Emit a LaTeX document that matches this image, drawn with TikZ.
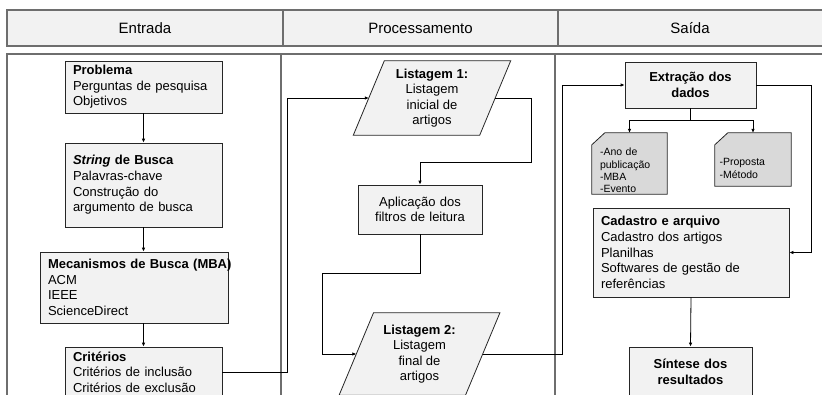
\documentclass[tikz,border=0pt]{standalone}
\usepackage{fontspec}
\setmainfont{Liberation Sans}
\usetikzlibrary{arrows.meta,backgrounds}
\definecolor{boxfill}{HTML}{F2F2F2}
\definecolor{docfill}{HTML}{D9D9D9}
\definecolor{framecol}{HTML}{6E6E6E}
\tikzset{
  frame/.style={draw=framecol, line width=1.2pt},
  box/.style={draw=black!85, fill=boxfill, line width=0.8pt, inner sep=0pt,
    font=\fontsize{13}{15.6}\selectfont, align=left},
  cbox/.style={box, align=center},
  ltext/.style={inner sep=0pt, font=\fontsize{13}{15.4}\selectfont, align=center},
  pbox/.style={draw=black!85, fill=boxfill, line width=0.8pt},
  dshape/.style={draw=black!85, fill=docfill, line width=0.8pt},
  doc/.style={inner sep=0pt, font=\fontsize{10.5}{12.4}\selectfont, align=left},
  conn/.style={draw=black, line width=0.8pt},
  arr/.style={conn, -{Latex[length=4pt,width=3.6pt]}},
  head/.style={inner sep=0pt, font=\fontsize{15}{18}\selectfont}
}
\begin{document}
\begin{tikzpicture}[x=1pt,y=-1pt]
\useasboundingbox (0,0) rectangle (822,394);
\clip (0,0) rectangle (822,394);
% header
\draw[frame, fill=boxfill] (7,10) rectangle (840,46);
\draw[frame] (283,10) -- (283,46);
\draw[frame] (558,10) -- (558,46);
\node[head] (h1) at (145,28) {Entrada};
\node[head] (h2) at (420.5,28) {Processamento};
\node[head] (h3) at (690,28) {Saída};
% body frame
\draw[frame] (840,54) -- (7,54) -- (7,420);
\draw[frame] (281,54) -- (281,420);
\draw[frame] (555,54) -- (555,420);

% Entrada column
\node[box, minimum width=157, minimum height=52, text width=141] (prob) at (143.5,87)
  {\textbf{Problema}\\Perguntas de pesquisa\\Objetivos};
\node[box, minimum width=157, minimum height=84, text width=141] (str) at (143.5,185)
  {\textbf{\textit{String} de Busca}\\Palavras-chave\\Construção do\\argumento de busca};
\node[box, minimum width=188, minimum height=71, text width=172] (mba) at (134,287.5)
  {\mbox{\textbf{Mecanismos de Busca (MBA)}}\\ACM\\IEEE\\ScienceDirect};
\node[box, minimum width=157, minimum height=50, text width=141] (crit) at (143.5,372)
  {\textbf{Critérios}\\Critérios de inclusão\\Critérios de exclusão};

% Processamento column
\node[ltext, minimum width=126, minimum height=74] (l1) at (432,98)
  {\textbf{Listagem 1:}\\Listagem\\inicial de\\artigos};
\node[cbox, minimum width=124, minimum height=49, text width=120] (apl) at (420,209.5)
  {Aplicação dos\\filtros de leitura};
\node[ltext, minimum width=126, minimum height=82] (l2) at (419.5,354)
  {\textbf{Listagem 2:}\\Listagem\\final de\\artigos};

% Saida column
\node[cbox, minimum width=131, minimum height=46, text width=125] (ext) at (690.5,85)
  {\textbf{Extração dos}\\\textbf{dados}};
\node[doc, minimum width=75, minimum height=61, text width=59] (doc1) at (629.5,163.5)
  {\rule{0pt}{21.5pt}-Ano de\\publicação\\-MBA\\-Evento};
\node[doc, minimum width=76, minimum height=53, text width=67] (doc2) at (753,159.5)
  {\rule{0pt}{25pt}-Proposta\\-Método};
\node[box, minimum width=196, minimum height=89, text width=180] (cad) at (691,252.5)
  {\textbf{Cadastro e arquivo}\\Cadastro dos artigos\\Planilhas\\Softwares de gestão de\\referências};
\node[cbox, minimum width=123, minimum height=50, text width=119] (sin) at (690.5,372)
  {\textbf{Síntese dos}\\\textbf{resultados}};

\begin{scope}[on background layer]
  \draw[pbox] ([xshift=15.5pt]l1.north west) -- ([xshift=15.5pt]l1.north east)
    -- ([xshift=-15.5pt]l1.south east) -- ([xshift=-15.5pt]l1.south west) -- cycle;
  \draw[pbox] ([xshift=17.2pt]l2.north west) -- ([xshift=17.2pt]l2.north east)
    -- ([xshift=-17.2pt]l2.south east) -- ([xshift=-17.2pt]l2.south west) -- cycle;
  \draw[dshape] ([yshift=-12pt]doc1.north west) -- ([xshift=13pt]doc1.north west)
    -- (doc1.north east) -- (doc1.south east) -- (doc1.south west) -- cycle;
  \draw[dshape] ([yshift=-12pt]doc2.north west) -- ([xshift=13pt]doc2.north west)
    -- (doc2.north east) -- (doc2.south east) -- (doc2.south west) -- cycle;
\end{scope}

% connectors
\draw[arr] (prob.south) -- (str.north);
\draw[arr] (str.south) -- (str.south |- mba.north);
\draw[arr] (str.south |- mba.south) -- (crit.north);
\coordinate (k1) at (287,372);
\draw[arr] (crit.east) -- (k1) |- (l1.west);
\coordinate (k2) at (531,162);
\draw[arr] (l1.east) -| (k2) -| (apl.north);
\coordinate (k3) at (322,273);
\draw[arr] (apl.south) |- (k3) |- (l2.west);
\coordinate (k4) at (562,85);
\draw[arr] (l2.east) -| (k4) -- (ext.west);
\coordinate (k5) at (811,252.5);
\draw[arr] (ext.east) -| (k5) -- (cad.east);
\coordinate (k6) at (690.5,120);
\draw[conn] (ext.south) -- (k6);
\draw[arr] (k6) -| (doc1.north);
\draw[arr] (k6) -| (doc2.north);
\draw[arr] (cad.south) -- (sin.north);
\end{tikzpicture}
\end{document}
